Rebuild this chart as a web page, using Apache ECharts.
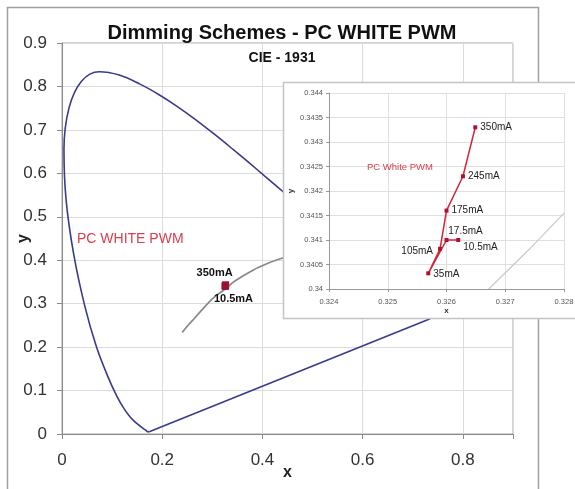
<!DOCTYPE html>
<html>
<head>
<meta charset="utf-8">
<script src="https://cdn.jsdelivr.net/npm/echarts@6/dist/echarts.min.js"></script>
<style>
html,body{margin:0;padding:0;background:#fff;}
#chart{width:575px;height:489px;}
</style>
</head>
<body>
<div id="chart"></div>
<script>
// CIE 1931 spectral locus (380 nm -> 700 nm)
const locusX = [0.1741,0.1733,0.1714,0.1689,0.1644,0.1566,0.1510,0.1440,0.1355,0.1241,0.1096,0.0913,0.0687,0.0454,0.0235,0.0082,0.0039,0.0139,0.0389,0.0743,0.1142,0.1547,0.1929,0.2296,0.2658,0.3016,0.3373,0.3731,0.4087,0.4441,0.4788,0.5125,0.5448,0.5752,0.6029,0.6270,0.6658,0.6915,0.7079,0.7190,0.7260,0.7300,0.7334,0.7347];
const locusY = [0.0050,0.0048,0.0051,0.0069,0.0109,0.0177,0.0227,0.0297,0.0399,0.0578,0.0868,0.1327,0.2007,0.2950,0.4127,0.5384,0.6548,0.7502,0.8120,0.8338,0.8262,0.8059,0.7816,0.7543,0.7243,0.6923,0.6589,0.6245,0.5896,0.5547,0.5202,0.4866,0.4544,0.4242,0.3965,0.3725,0.3340,0.3083,0.2920,0.2809,0.2740,0.2700,0.2666,0.2653];
// Blackbody (gray) curve in the main chart
const planckX = [0.240,0.253,0.265,0.281,0.300,0.314,0.325,0.345,0.381,0.411,0.437,0.460];
const planckY = [0.234,0.252,0.267,0.288,0.311,0.324,0.333,0.352,0.377,0.393,0.404,0.411];
// Gray curve visible in the inset
const insetGrayX = [0.32672,0.3274,0.3280];
const insetGrayY = [0.3400,0.3408,0.34155];
// PC White PWM measurements
const currents = ['10.5mA','17.5mA','35mA','105mA','175mA','245mA','350mA'];
const pwmX = [0.32620,0.32600,0.32569,0.32589,0.32600,0.32628,0.32649];
const pwmY = [0.34100,0.34100,0.34032,0.34082,0.34160,0.34230,0.34330];
// Tick settings
const mainXTicks = {min:0, max:0.9, interval:0.2};
const mainYTicks = {min:0, max:0.9, interval:0.1};
const insetXTicks = {min:0.324, max:0.328, interval:0.001};
const insetYTicks = {min:0.340, max:0.344, interval:0.0005};

const FONT = 'Liberation Sans, Arial, sans-serif';
const RED = '#d0283a';

const insetLabelStyle = {
  '350mA': {position:'right', distance:3},
  '245mA': {position:'right', distance:3},
  '175mA': {position:'right', distance:3},
  '17.5mA': {position:'top', offset:[19,3]},
  '10.5mA': {position:'right', distance:3, offset:[0,7]},
  '105mA': {position:'left', distance:5, offset:[0,2]},
  '35mA': {position:'right', distance:3, offset:[0,1]}
};
const mainLabelStyle = {
  '350mA': {show:true, position:'top', offset:[-11,2]},
  '10.5mA': {show:true, position:'bottom', offset:[8,-1]}
};

const zip = (xs, ys) => xs.map((x,i)=>[x, ys[i]]);
const n = locusX.length;
const purpleLine = [[locusX[n-1], locusY[n-1]], [locusX[0], locusY[0]]];

const insetData = pwmX.map((x,i)=>({
  value:[x,pwmY[i]], name:currents[i],
  label:Object.assign({show:true, formatter:'{b}'}, insetLabelStyle[currents[i]])
}));
const mainData = pwmX.map((x,i)=>({
  value:[x,pwmY[i]], name:currents[i],
  label:Object.assign({show:false, formatter:'{b}'}, mainLabelStyle[currents[i]] || {})
}));

const chart = echarts.init(document.getElementById('chart'), null, {renderer:'canvas'});
chart.setOption({
  animation:false,
  backgroundColor:'#fff',
  textStyle:{fontFamily:FONT},
  grid:[
    {left:62, top:43, right:62, bottom:55, containLabel:false, outerBoundsMode:'none',
     show:true, borderColor:'#a8a8a8', borderWidth:1, backgroundColor:'transparent'},
    {left:329, top:93, right:11, bottom:200, containLabel:false, outerBoundsMode:'none', show:false, z:20}
  ],
  xAxis:[
    {gridIndex:0, type:'value', min:mainXTicks.min, max:mainXTicks.max, interval:mainXTicks.interval,
     name:'x', nameLocation:'middle', nameGap:31, nameMoveOverlap:false,
     nameTextStyle:{fontSize:16, fontWeight:'bold', color:'#222', fontFamily:FONT},
     axisLine:{show:true, onZero:false, lineStyle:{color:'#8a8a8a', width:1}},
     axisTick:{show:true, inside:false, length:5, lineStyle:{color:'#8a8a8a'}},
     axisLabel:{fontSize:17, color:'#333', margin:18, fontFamily:FONT,
       formatter:v=> v>0.85 ? '' : String(+v.toFixed(1))},
     splitLine:{show:true, lineStyle:{color:'#dcdcdc', width:1}}
    },
    {gridIndex:1, type:'value', min:insetXTicks.min, max:insetXTicks.max, interval:insetXTicks.interval, z:20,
     name:'x', nameLocation:'middle', nameGap:12,
     nameTextStyle:{fontSize:8, fontWeight:'bold', color:'#333', fontFamily:FONT},
     axisLine:{show:true, onZero:false, lineStyle:{color:'#999', width:1}},
     axisTick:{show:true, inside:false, length:3, lineStyle:{color:'#999'}},
     axisLabel:{fontSize:7.5, color:'#555', margin:9, fontFamily:FONT,
       formatter:v=> v.toFixed(3)},
     splitLine:{show:true, lineStyle:{color:'#e0e0e0', width:1}}
    }
  ],
  yAxis:[
    {gridIndex:0, type:'value', min:mainYTicks.min, max:mainYTicks.max, interval:mainYTicks.interval,
     name:'y', nameLocation:'middle', nameGap:30, nameRotate:90, nameMoveOverlap:false,
     nameTextStyle:{fontSize:16, fontWeight:'bold', color:'#222', fontFamily:FONT},
     axisLine:{show:true, onZero:false, lineStyle:{color:'#8a8a8a', width:1}},
     axisTick:{show:true, inside:false, length:5, lineStyle:{color:'#8a8a8a'}},
     axisLabel:{fontSize:17, color:'#333', margin:15, fontFamily:FONT,
       formatter:v=> String(+v.toFixed(1))},
     splitLine:{show:true, lineStyle:{color:'#dcdcdc', width:1}}
    },
    {gridIndex:1, type:'value', min:insetYTicks.min, max:insetYTicks.max, interval:insetYTicks.interval, z:20,
     name:'y', nameLocation:'middle', nameGap:34, nameRotate:90,
     nameTextStyle:{fontSize:8, fontWeight:'bold', color:'#333', fontFamily:FONT},
     axisLine:{show:true, onZero:false, lineStyle:{color:'#999', width:1}},
     axisTick:{show:true, inside:false, length:3, lineStyle:{color:'#999'}},
     axisLabel:{fontSize:7.5, color:'#555', margin:6, fontFamily:FONT,
       formatter:v=> String(+v.toFixed(4))},
     splitLine:{show:true, lineStyle:{color:'#e0e0e0', width:1}}
    }
  ],
  graphic:{elements:[
    {type:'rect', z:0, silent:true, shape:{x:7.5, y:7.5, width:531, height:500},
     style:{fill:'none', stroke:'#a0a0a0', lineWidth:1.5}},
    {type:'text', z:5, x:282, y:33, silent:true,
     style:{text:'Dimming Schemes - PC WHITE PWM', fontSize:20, fontWeight:'bold', fill:'#111', fontFamily:FONT, align:'center', verticalAlign:'middle'}},
    {type:'text', z:5, x:282, y:58, silent:true,
     style:{text:'CIE - 1931', fontSize:14, fontWeight:'bold', fill:'#111', fontFamily:FONT, align:'center', verticalAlign:'middle'}},
    {type:'text', z:5, x:77, y:239, silent:true,
     style:{text:'PC WHITE PWM', fontSize:14, fill:'#d8404e', fontFamily:FONT, align:'left', verticalAlign:'middle'}},
    {type:'rect', z:15, silent:true, shape:{x:283.5, y:82.5, width:320, height:236},
     style:{fill:'#fff', stroke:'#c4c4c4', lineWidth:1.5}},
    {type:'text', z:40, x:367, y:167, silent:true,
     style:{text:'PC White PWM', fontSize:9.5, fill:'#d8404e', fontFamily:FONT, align:'left', verticalAlign:'middle'}}
  ]},
  series:[
    {type:'line', xAxisIndex:0, yAxisIndex:0, z:3, data:zip(locusX, locusY), showSymbol:false, symbol:'none', smooth:0.35,
     lineStyle:{color:'#3a3a8e', width:1.6}, silent:true},
    {type:'line', xAxisIndex:0, yAxisIndex:0, z:3, data:purpleLine, showSymbol:false, symbol:'none',
     lineStyle:{color:'#3a3a8e', width:1.6}, silent:true},
    {type:'line', xAxisIndex:0, yAxisIndex:0, z:3, data:zip(planckX, planckY), showSymbol:false, symbol:'none', smooth:0.3,
     lineStyle:{color:'#8a8a8a', width:1.8}, silent:true},
    {type:'line', xAxisIndex:0, yAxisIndex:0, z:4, data:mainData, symbol:'rect', symbolSize:7,
     itemStyle:{color:'#9a1030'}, lineStyle:{color:'#9a1030', width:1},
     label:{fontSize:11, fontWeight:'bold', color:'#111', fontFamily:FONT}, silent:true},
    {type:'line', xAxisIndex:1, yAxisIndex:1, z:30, data:zip(insetGrayX, insetGrayY), showSymbol:false, symbol:'none',
     lineStyle:{color:'#c8c8c8', width:1.2}, silent:true},
    {type:'line', xAxisIndex:1, yAxisIndex:1, z:31, data:insetData, symbol:'rect', symbolSize:4,
     itemStyle:{color:'#b01030'}, lineStyle:{color:RED, width:1.5},
     label:{fontSize:10, color:'#222', fontFamily:FONT}, silent:true}
  ]
});
</script>
</body>
</html>
